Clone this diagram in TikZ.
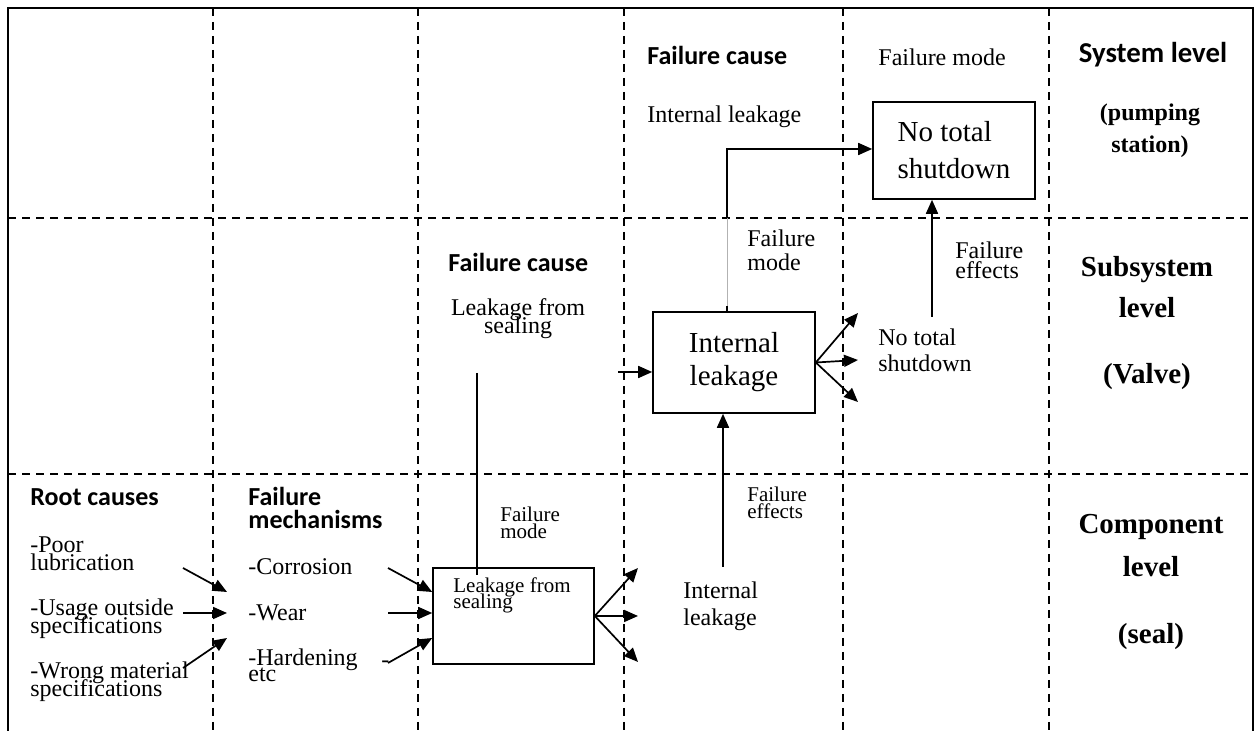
\documentclass[tikz,border=0pt]{standalone}
\usepackage{fontspec}
\setmainfont{Liberation Serif}
\newfontfamily\calfont{Carlito}
\usetikzlibrary{arrows.meta}
% fixed line pitch, even when the lines of a label crowd each other
\newcommand{\tightlines}{\lineskiplimit=-\maxdimen}
\begin{document}
\begin{tikzpicture}[x=0.5pt,y=-0.5pt,
  frame/.style={line width=1pt},
  gridline/.style={line width=0.9pt, dash pattern=on 4pt off 3pt},
  heading/.style={font=\calfont\bfseries\fontsize{13}{#1}\selectfont\tightlines, inner sep=0pt, anchor=west, align=left},
  heading/.default=15,
  txt/.style={font=\fontsize{12}{#1}\selectfont\tightlines, inner sep=0pt, anchor=west, align=left},
  txt/.default=14,
  small/.style={font=\fontsize{10.5}{#1}\selectfont\tightlines, inner sep=0pt, anchor=west, align=left},
  small/.default=8.5,
  lvl/.style={font=\bfseries\fontsize{14.5}{17}\selectfont, inner sep=0pt},
  lvlsmall/.style={font=\bfseries\fontsize{12}{16}\selectfont\tightlines, inner sep=0pt, align=center},
  modebox/.style={draw, line width=0.8pt, inner sep=0pt, align=left},
  arr/.style={line width=0.85pt, -{Triangle[length=7pt,width=6pt]}},
  conn/.style={line width=0.85pt}
]
\useasboundingbox (0,0) rectangle (1260,731);

% outer frame (open at the bottom)
\draw[frame] (8,731) -- (8,8) -- (1253,8) -- (1253,731);

% column and level separators
\foreach \gx in {213,418,624,843,1049}
  \draw[gridline] (\gx,8) -- (\gx,731);
\foreach \gy in {218,474}
  \draw[gridline] (8,\gy) -- (1253,\gy);

% ---------------- system level ----------------
\node[heading] (fcA) at (647,55) {Failure cause};
\node[txt] (ilA) at (647,117) {Internal leakage};
\node[txt] (fmA) at (878,57) {Failure mode};
\node[modebox, minimum width=81pt, minimum height=48.5pt,
      font=\fontsize{14.5}{18.5}\selectfont\tightlines] (sysbox) at (954,150.5) {No total\\shutdown};
\node[heading, anchor=center, font=\calfont\bfseries\fontsize{14.4}{16}\selectfont] (syslvl) at (1153,55) {System level};
\node[lvlsmall] (pump) at (1150,131) {(pumping\\station)};

% ---------------- subsystem level ----------------
\node[heading] (fcB) at (448,262) {Failure cause};
\node[txt=9, align=center, anchor=center] (lfsB) at (518,319) {Leakage from\\sealing};
\node[modebox, minimum width=81pt, minimum height=50.5pt, align=center,
      font=\fontsize{14.5}{16.5}\selectfont\tightlines] (valvebox) at (734,362.5) {Internal\\leakage};
\node[txt=12] (fmB) at (747,250) {Failure\\mode};
\node[txt=10] (feB) at (955,260) {Failure\\effects};
\node[txt=13] (ntsB) at (878,350) {No total\\shutdown};
\node[lvl] (subA) at (1147,270) {Subsystem};
\node[lvl] (subB) at (1147,308) {level};
\node[lvl] (subC) at (1147,377) {(Valve)};

% ---------------- component level ----------------
\node[heading=11.5] (rc) at (30,497) {Root causes};
\node[heading=11.5] (fmech) at (248,508) {Failure\\mechanisms};
\node[txt=9] (poor) at (30,554) {-Poor\\lubrication};
\node[txt=9] (usage) at (30,619) {-Usage outside\\specifications};
\node[txt=9] (wrong) at (30,682) {-Wrong material\\specifications};
\node[txt] (corr) at (248,567) {-Corrosion};
\node[txt] (wear) at (248,613) {-Wear};
\node[txt=8] (hard) at (248,665) {-Hardening\\etc};
\node[txt] (dashmark) at (381,664) {-};
\node[modebox, minimum width=80.5pt, minimum height=48pt] (sealbox) at (513.5,616) {};
\node[small=8] (sealtxt) at (453,595) {Leakage from\\sealing};
\node[small] (fmC) at (500,523) {Failure\\mode};
\node[txt=13.5] (ilC) at (683,606) {Internal\\leakage};
\node[small] (feC) at (747,503) {Failure\\effects};
\node[lvl] (compA) at (1151,527) {Component};
\node[lvl] (compB) at (1151,567) {level};
\node[lvl] (compC) at (1151,637) {(seal)};

% ---------------- connectors ----------------
% root causes -> failure mechanisms
\coordinate (rcA) at (183,568); \coordinate (rcAt) at (227,592);
\coordinate (rcB) at (183,613); \coordinate (rcBt) at (227,613);
\coordinate (rcC) at (183,668); \coordinate (rcCt) at (227,638);
\draw[arr] (rcA) -- (rcAt);
\draw[arr] (rcB) -- (rcBt);
\draw[arr] (rcC) -- (rcCt);

% failure mechanisms -> seal failure mode
\coordinate (fmA1) at (388,568);
\coordinate (fmB1) at (388,613);
\coordinate (fmC1) at (388,663);
\draw[arr] (fmA1) -- (sealbox.west |- 0,592);
\draw[arr] (fmB1) -- (sealbox.west |- 0,613);
\draw[arr] (fmC1) -- (sealbox.west |- 0,638);

% seal failure mode -> effects
\coordinate (sfA) at (638,568);
\coordinate (sfB) at (638,616);
\coordinate (sfC) at (638,662);
\draw[arr] (sealbox.east) -- (sfA);
\draw[arr] (sealbox.east) -- (sfB);
\draw[arr] (sealbox.east) -- (sfC);

% seal failure mode rises to the valve failure cause
\coordinate (lfsFoot) at (477,373);
\draw[conn] (lfsFoot) -- (477,575);

% seal effect becomes the valve failure mode
\coordinate (ilFoot) at (723,567);
\draw[arr] (ilFoot) -- (valvebox.south -| ilFoot);

% incoming cause into the valve box
\coordinate (vin) at (618,372);
\draw[arr] (vin) -- (valvebox.west |- vin);

% valve failure mode -> effects
\coordinate (vfA) at (858,313);
\coordinate (vfB) at (858,360);
\coordinate (vfC) at (858,402);
\draw[arr] (valvebox.east) -- (vfA);
\draw[arr] (valvebox.east) -- (vfB);
\draw[arr] (valvebox.east) -- (vfC);

% valve failure mode becomes the system failure cause
\coordinate (vup) at (727,218);
\draw[gray!60, line width=0.4pt] (valvebox.north -| vup) -- (vup);
\draw[conn] (valvebox.north -| vup) -- ++(0,-5);
\draw[arr] (vup) -- (727,149) -- (sysbox.west |- 0,149);

% valve effect -> system failure mode
\coordinate (ntsFoot) at (932,317);
\draw[arr] (ntsFoot) -- (sysbox.south -| ntsFoot);
\end{tikzpicture}
\end{document}
